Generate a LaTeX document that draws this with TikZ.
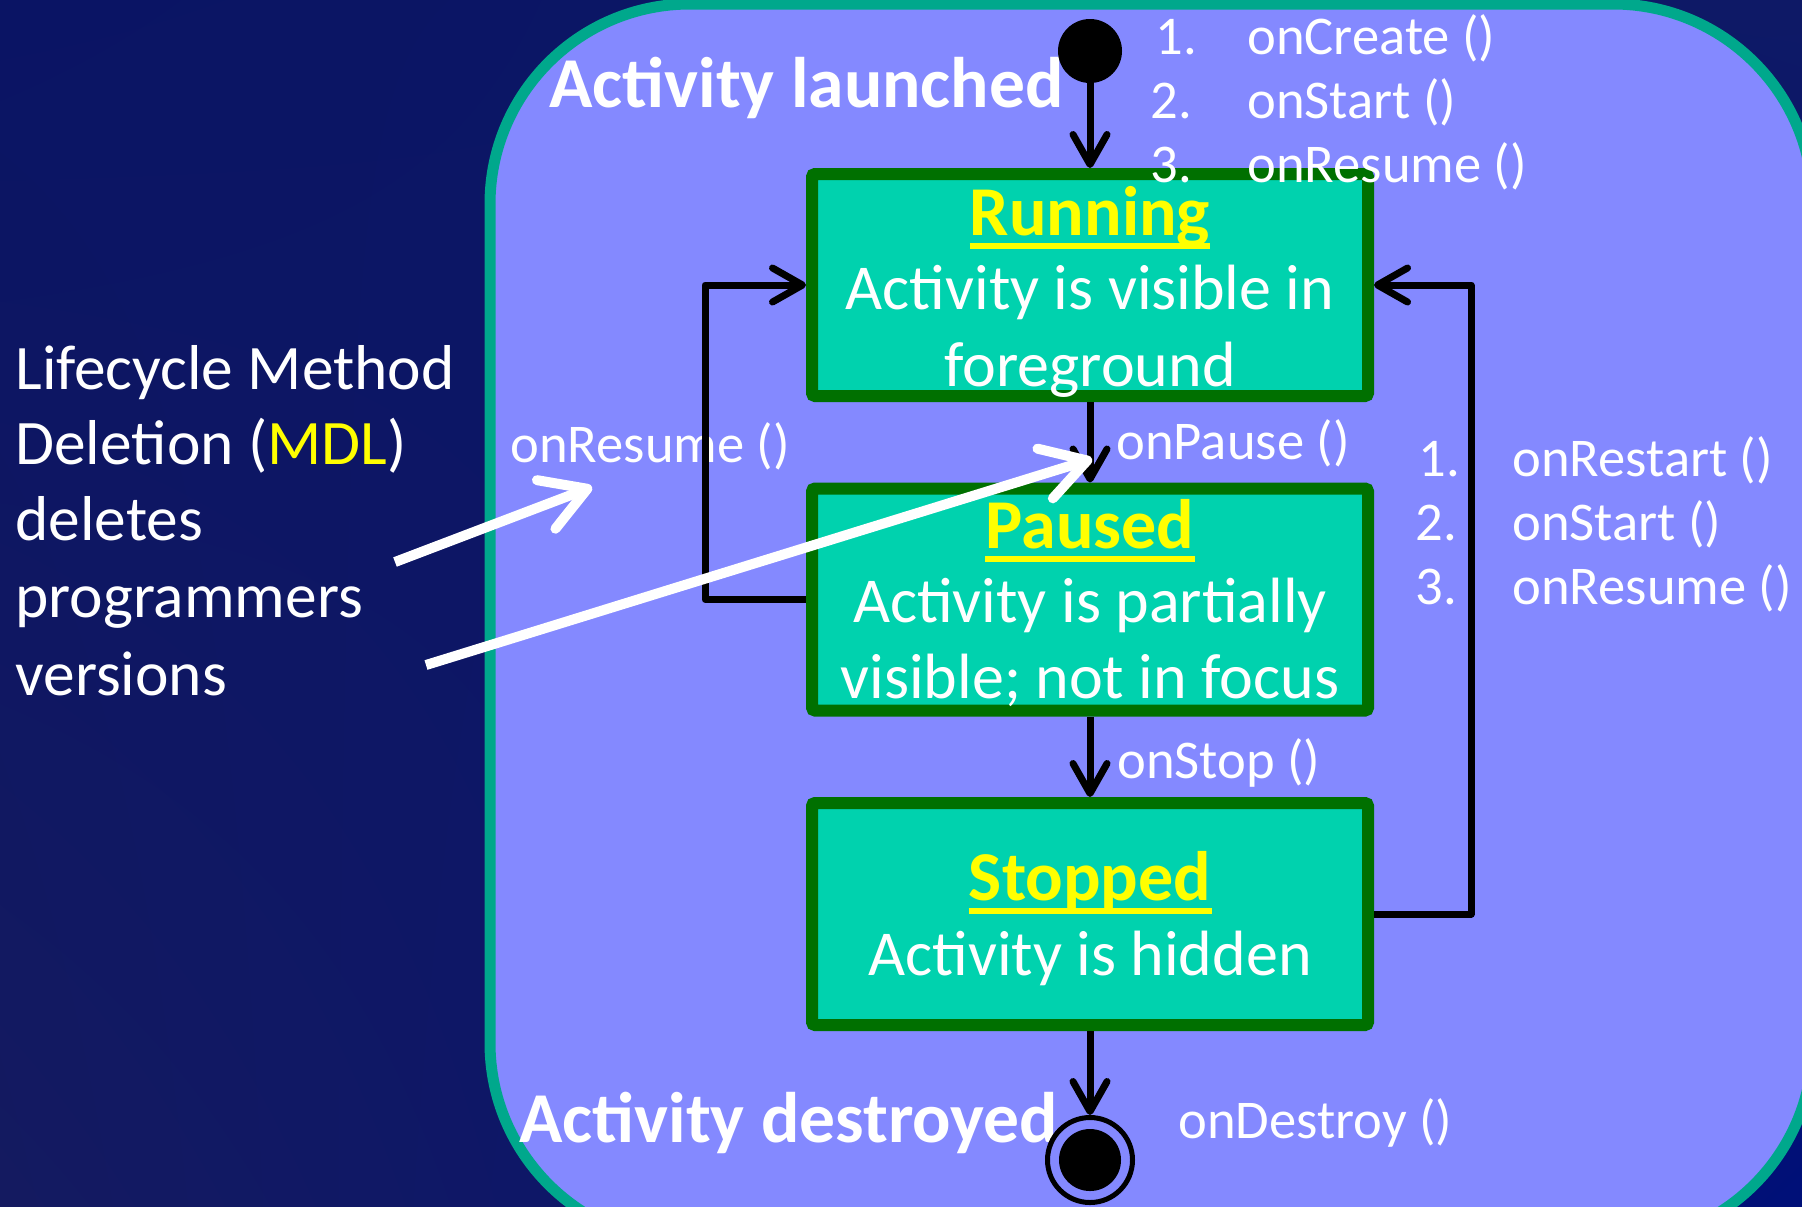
\documentclass[tikz,border=0pt]{standalone}
\usepackage{fontspec}
\setmainfont{Carlito}
\usetikzlibrary{arrows.meta,calc,shadings}
\definecolor{navyA}{RGB}{10,20,100}
\definecolor{navyB}{RGB}{14,25,102}
\definecolor{navyC}{RGB}{20,26,96}
\definecolor{navyD}{RGB}{0,16,120}
\definecolor{lav}{RGB}{132,137,255}
\definecolor{tealb}{RGB}{0,168,140}
\definecolor{boxfill}{RGB}{0,210,174}
\definecolor{boxgreen}{RGB}{0,112,0}
\definecolor{ylw}{RGB}{255,255,0}
\tikzset{
  statebox/.style={draw=boxgreen, fill=boxfill, line width=6pt, rounded corners=1.5pt,
    minimum width=278pt, minimum height=111pt, inner sep=0pt},
  conn/.style={line width=3.5pt, line join=round, -{Straight Barb[length=15pt,width=17pt,round]}},
  warrow/.style={white, line width=5pt, -{Straight Barb[length=22pt,width=26pt,round]}},
  ttl/.style={text=ylw, font=\bfseries\fontsize{35pt}{42pt}\selectfont, inner sep=0pt, anchor=base},
  btxt/.style={text=white, font=\fontsize{32pt}{38pt}\selectfont, inner sep=0pt, anchor=base},
  lbl/.style={text=white, font=\fontsize{27.3pt}{32pt}\selectfont, inner sep=0pt, anchor=base west},
  big/.style={text=white, font=\bfseries\fontsize{35.8pt}{42pt}\selectfont, inner sep=0pt, anchor=base west},
  side/.style={text=white, font=\fontsize{31.7pt}{38pt}\selectfont, inner sep=0pt, anchor=base west},
  uline/.style={ylw, line width=2.75pt}
}
\begin{document}
\begin{tikzpicture}[x=0.5pt,y=-0.5pt]
\useasboundingbox (0,0) rectangle (1802,1206);
\clip (0,0) rectangle (1802,1206);
\shade[upper left=navyA, upper right=navyB, lower left=navyC, lower right=navyD] (0,0) rectangle (1802,1206);
\draw[tealb, fill=lav, line width=5.5pt, rounded corners=100pt] (490,4) rectangle (1813,1243);

% state boxes
\node[statebox] (run) at (1090,285) {};
\node[statebox] (pau) at (1090,599.5) {};
\node[statebox] (stp) at (1090,914) {};

% box texts
\node[ttl] (runT) at (1090,235) {Running};
\draw[uline] ([yshift=-5.5pt]runT.base west) -- ([yshift=-5.5pt]runT.base east);
\node[btxt] (runA) at (1090,309) {Activity is visible in};
\node[btxt] (runB) at (1090,386) {foreground};

\node[ttl] (pauT) at (1090,548) {Paused};
\draw[uline] ([yshift=-5.5pt]pauT.base west) -- ([yshift=-5.5pt]pauT.base east);
\node[btxt] (pauA) at (1090,622) {Activity is partially};
\node[btxt] (pauB) at (1090,698) {visible; not in focus};

\node[ttl] (stpT) at (1090,900) {Stopped};
\draw[uline] ([yshift=-5.5pt]stpT.base west) -- ([yshift=-5.5pt]stpT.base east);
\node[btxt] (stpA) at (1090,975) {Activity is hidden};

% labels
\node[big] (launch) at (549,107) {Activity launched};
\node[big] (destr) at (519,1142) {Activity destroyed};

\node[lbl] (cn1) at (1155,54) {1.};
\node[lbl] (cn2) at (1150,118) {2.};
\node[lbl] (cn3) at (1150,182) {3.};
\node[lbl] (ct1) at (1247,54) {onCreate ()};
\node[lbl] (ct2) at (1247,118) {onStart ()};
\node[lbl] (ct3) at (1247,182) {onResume ()};

\node[lbl] (rn1) at (1418,476) {1.};
\node[lbl] (rn2) at (1415,540) {2.};
\node[lbl] (rn3) at (1415,604) {3.};
\node[lbl] (rt1) at (1512,476) {onRestart ()};
\node[lbl] (rt2) at (1512,540) {onStart ()};
\node[lbl] (rt3) at (1512,604) {onResume ()};

\node[lbl] (resl) at (510,462) {onResume ()};
\node[lbl] (pausl) at (1116,459) {onPause ()};
\node[lbl] (stopl) at (1117,778) {onStop ()};
\node[lbl] (destl) at (1178,1138) {onDestroy ()};

% left text
\node[side] (s1) at (15,389) {Lifecycle Method};
\node[side] (s2) at (15,464) {Deletion (\textcolor{ylw}{MDL})};
\node[side] (s3) at (15,540) {deletes};
\node[side] (s4) at (15,617) {programmers};
\node[side] (s5) at (15,695) {versions};

% start / end
\node[circle, fill=black, minimum size=32pt, inner sep=0pt] (start) at (1090,51) {};
\node[circle, draw=black, line width=2.5pt, minimum size=42.5pt, inner sep=0pt] (endc) at (1090,1160) {};
\node[circle, fill=black, minimum size=31pt, inner sep=0pt] (endd) at (1090,1160) {};

% connectors
\draw[conn] (start) -- (run);
\draw[conn] (run) -- (pau);
\draw[conn] (pau) -- (stp);
\draw[conn] (stp) -- (endc);
\draw[conn] (pau.west) -- ++(-101,0) |- (run.west);
\draw[conn] (stp.east) -- ++(97,0) |- (run.east);

% white pointer arrows
\coordinate (w1s) at (395,562);
\coordinate (w1e) at (592,487);
\coordinate (w2s) at (426,665);
\coordinate (w2e) at (1092,459);
\draw[warrow] (w1s) -- (w1e);
\draw[warrow] (w2s) -- (w2e);
\end{tikzpicture}
\end{document}
